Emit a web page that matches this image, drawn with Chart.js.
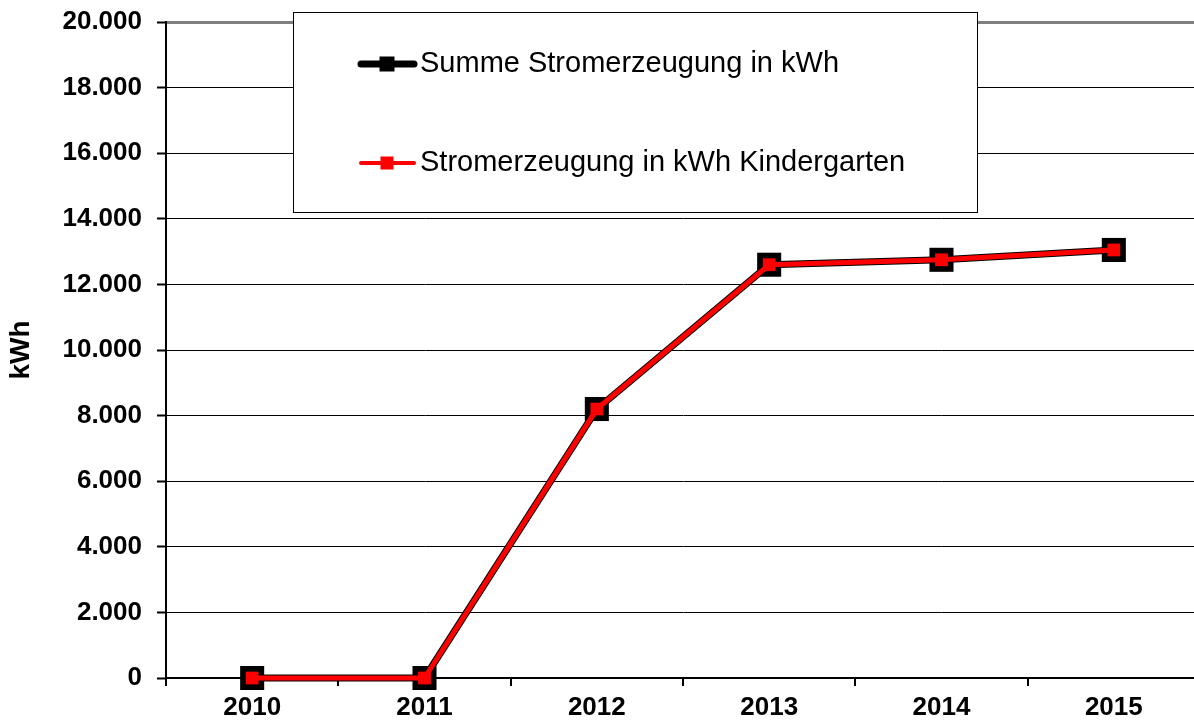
<!DOCTYPE html>
<html lang="de">
<head>
<meta charset="UTF-8">
<title>Stromerzeugung</title>
<script src="https://cdn.jsdelivr.net/npm/chart.js"></script>
<style>
  html, body {
    margin: 0;
    padding: 0;
    background: #fff;
    overflow: hidden;
  }
  canvas { display: block; }
</style>
</head>
<body>
<canvas id="chart" width="1200" height="720"></canvas>
<script>
// Data
const years = ['2010', '2011', '2012', '2013', '2014', '2015']
const summeKwh = [0, 0, 8200, 12600, 12750, 13050]
const kindergartenKwh = [0, 0, 8200, 12600, 12750, 13050]
const yTicks = [0, 2000, 4000, 6000, 8000, 10000, 12000, 14000, 16000, 18000, 20000]

const fontFamily = '"Liberation Sans", Arial, sans-serif'

// German thousands separator: 20000 -> 20.000
function formatDe(v) {
  return String(v).replace(/\B(?=(\d{3})+(?!\d))/g, '.')
}

// Legend drawn as a framed box inside the plot area
const boxLegend = {
  id: 'boxLegend',
  afterDraw(chart) {
    const ctx = chart.ctx
    ctx.save()
    ctx.fillStyle = '#fff'
    ctx.fillRect(293, 12, 684, 200)
    ctx.strokeStyle = '#000'
    ctx.lineWidth = 1
    ctx.strokeRect(293.5, 12.5, 684, 200)

    const rows = [
      { ds: chart.data.datasets[0], y: 64, lw: 7, sq: 15 },
      { ds: chart.data.datasets[1], y: 163, lw: 4, sq: 13 }
    ]
    rows.forEach(r => {
      ctx.strokeStyle = r.ds.borderColor
      ctx.lineWidth = r.lw
      ctx.lineCap = 'round'
      ctx.beginPath()
      ctx.moveTo(361, r.y)
      ctx.lineTo(414, r.y)
      ctx.stroke()
      ctx.fillStyle = r.ds.pointBackgroundColor
      ctx.fillRect(387 - r.sq / 2, r.y - r.sq / 2, r.sq, r.sq)
      ctx.fillStyle = '#000'
      ctx.font = '29px ' + fontFamily
      ctx.textAlign = 'left'
      ctx.textBaseline = 'middle'
      ctx.fillText(r.ds.label, 420, r.y)
    })
    ctx.restore()
  }
}

new Chart(document.getElementById('chart'), {
  type: 'line',
  data: {
    labels: years,
    datasets: [
      {
        label: 'Summe Stromerzeugung in kWh',
        data: summeKwh,
        borderColor: '#000',
        borderWidth: 7,
        pointStyle: 'rect',
        pointRadius: 17,
        pointBackgroundColor: '#000',
        pointBorderColor: '#000',
        pointBorderWidth: 0,
        tension: 0,
        clip: false,
        order: 2
      },
      {
        label: 'Stromerzeugung in kWh Kindergarten',
        data: kindergartenKwh,
        borderColor: '#ff0000',
        borderWidth: 5,
        pointStyle: 'rect',
        pointRadius: 9,
        pointBackgroundColor: '#ff0000',
        pointBorderColor: '#ff0000',
        pointBorderWidth: 0,
        tension: 0,
        clip: false,
        order: 1
      }
    ]
  },
  options: {
    responsive: false,
    animation: false,
    events: [],
    layout: {
      autoPadding: false,
      padding: { top: 22, right: 0, bottom: 0, left: 0 }
    },
    plugins: {
      legend: { display: false },
      tooltip: { enabled: false }
    },
    scales: {
      x: {
        offset: true,
        grid: {
          offset: true,
          drawOnChartArea: false,
          drawTicks: true,
          tickLength: 8,
          color: '#000',
          lineWidth: 2
        },
        border: { color: '#000', width: 2 },
        ticks: {
          color: '#000',
          padding: 6,
          font: { family: fontFamily, size: 26, weight: 'bold' }
        },
        afterFit(scale) {
          scale.height = 42
          scale.paddingLeft = 0
          scale.paddingRight = 0
        }
      },
      y: {
        min: 0,
        max: 20000,
        afterBuildTicks(scale) {
          scale.ticks = yTicks.map(v => ({ value: v }))
        },
        grid: {
          color: ctx => (ctx.tick && ctx.tick.value === 20000 ? '#808080' : '#000'),
          lineWidth: ctx => (ctx.tick && ctx.tick.value === 20000 ? 3 : 1),
          tickLength: 9,
          tickColor: '#000',
          tickWidth: 2
        },
        border: { color: '#000', width: 2 },
        ticks: {
          color: '#000',
          padding: 15,
          font: { family: fontFamily, size: 26, weight: 'bold' },
          callback: v => formatDe(v)
        },
        title: {
          display: true,
          text: 'kWh',
          color: '#000',
          padding: { top: 4, bottom: 0 },
          font: { family: fontFamily, size: 28, weight: 'bold' }
        },
        afterFit(scale) {
          scale.width = 166
          scale.paddingTop = 0
          scale.paddingBottom = 0
        }
      }
    }
  },
  plugins: [boxLegend]
})
</script>
</body>
</html>
